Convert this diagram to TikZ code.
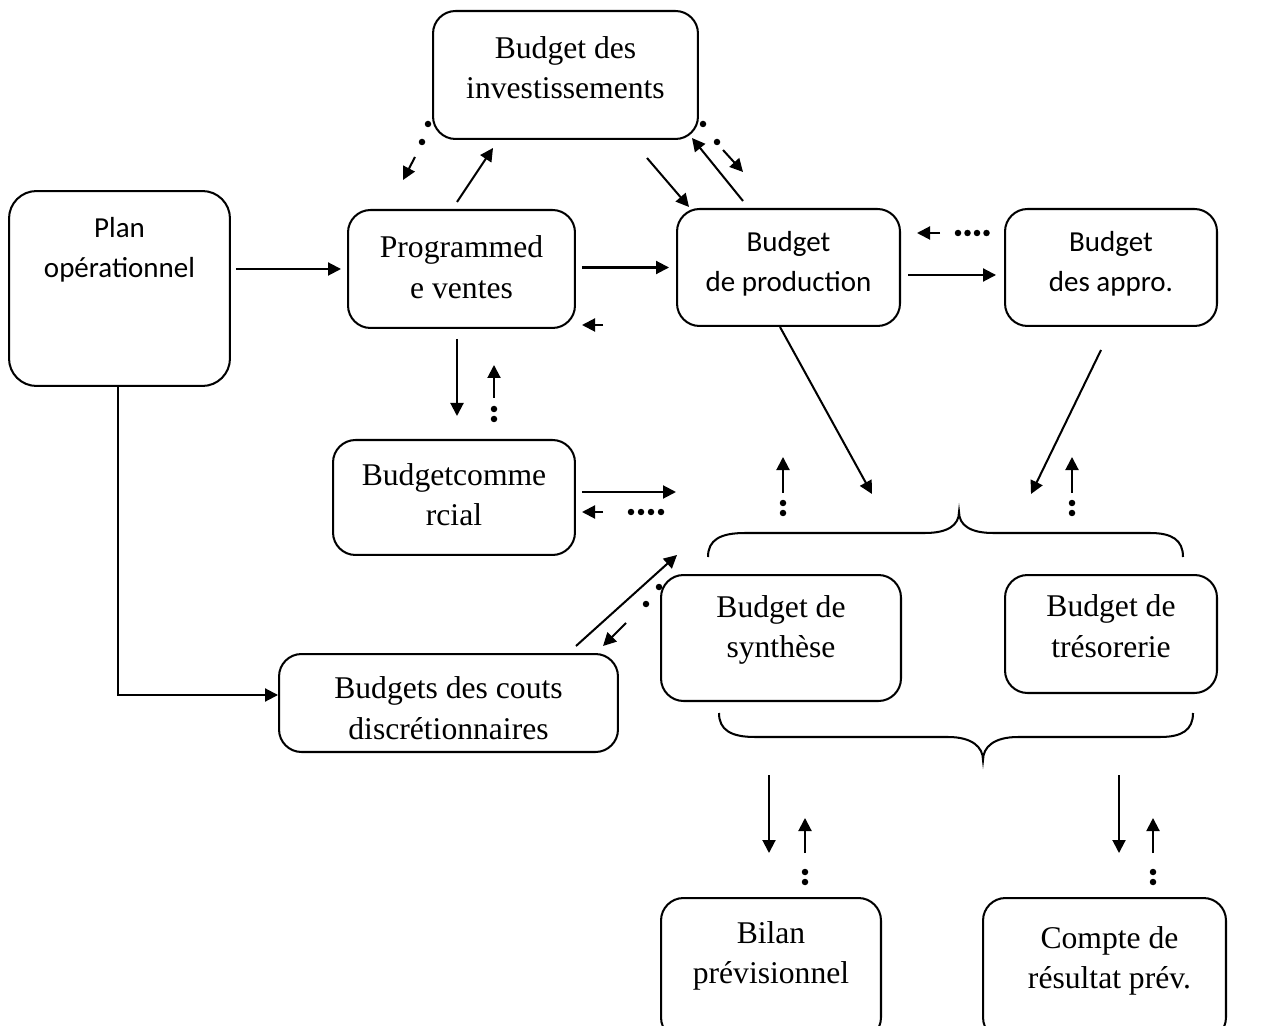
\documentclass[tikz,border=0pt]{standalone}
\usepackage{fontspec}
\setmainfont{Liberation Serif}
\newfontfamily\calib{Carlito}
\usetikzlibrary{arrows.meta}
\begin{document}
\begin{tikzpicture}[x=0.02cm,y=-0.02cm,line width=1.15pt,
  box/.style={draw,rounded corners=0.45cm,inner sep=0pt},
  serif/.style={font=\fontsize{18}{23}\selectfont,align=center},
  sans/.style={font=\calib\fontsize{16.5}{23}\selectfont,align=center},
  arr/.style={-{Triangle[length=7.4pt,width=7.4pt]}}]
\useasboundingbox (0,0) rectangle (1270,1026);

% boxes
\node[box,minimum width=5.3cm,minimum height=2.56cm,
  label={[serif,yshift=0.15cm]center:{Budget des\\investissements}}] (inv) at (565.5,75) {};
\node[box,rounded corners=0.55cm,minimum width=4.42cm,minimum height=3.9cm,
  label={[sans,yshift=0.77cm]center:{Plan\\opérationnel}}] (plan) at (119.5,288.5) {};
\node[box,minimum width=4.54cm,minimum height=2.36cm,
  label={[serif,yshift=0.04cm]center:{Programmed\\e ventes}}] (prog) at (461.5,269) {};
\node[box,minimum width=4.46cm,minimum height=2.34cm,
  label={[sans,yshift=0.08cm]center:{Budget\\de production}}] (prod) at (788.5,267.5) {};
\node[box,minimum width=4.24cm,minimum height=2.34cm,
  label={[sans,yshift=0.08cm]center:{Budget\\des appro.}}] (appro) at (1111,267.5) {};
\node[box,minimum width=4.84cm,minimum height=2.3cm,
  label={[serif,yshift=0.06cm]center:{Budgetcomme\\rcial}}] (comm) at (454,497.5) {};
\node[box,minimum width=6.78cm,minimum height=1.96cm,
  label={[serif,yshift=-0.1cm]center:{Budgets des couts\\discrétionnaires}}] (couts) at (448.5,703) {};
\node[box,minimum width=4.8cm,minimum height=2.52cm,
  label={[serif,yshift=0.16cm]center:{Budget de\\synthèse}}] (synth) at (781,638) {};
\node[box,minimum width=4.24cm,minimum height=2.36cm,
  label={[serif,yshift=0.16cm]center:{Budget de\\trésorerie}}] (treso) at (1111,634) {};
\node[box,minimum width=4.4cm,minimum height=2.84cm,
  label={[serif,yshift=0.26cm]center:{Bilan\\prévisionnel}}] (bilan) at (771,969) {};
\node[box,minimum width=4.86cm,minimum height=2.84cm,
  label={[serif,xshift=0.1cm,yshift=0.16cm]center:{Compte de\\résultat prév.}}] (compte) at (1104.5,969) {};

% braces
\draw (708,557) .. controls (708,540) and (720,533) .. (745,533) -- (925,533)
  .. controls (948,533) and (959,525) .. (959,512)
  .. controls (959,525) and (970,533) .. (993,533) -- (1150,533)
  .. controls (1172,533) and (1183,540) .. (1183,557);
\draw (719,713) .. controls (719,730) and (731,737) .. (755,737) -- (948,737)
  .. controls (972,737) and (983,747) .. (983,760)
  .. controls (983,747) and (994,737) .. (1018,737) -- (1160,737)
  .. controls (1182,737) and (1193,730) .. (1193,713);

% free ends
\coordinate (bt1) at (872,494);
\coordinate (bt2) at (1031,494);
\coordinate (appf) at (1101,350);
\coordinate (commf) at (676,492);
\coordinate (coutf) at (677,555);
\coordinate (bs1) at (769,775);
\coordinate (be1) at (769,853);
\coordinate (bs2) at (1119,775);
\coordinate (be2) at (1119,853);

% solid connectors
\draw[arr,shorten <=0.1cm,shorten >=0.12cm] (plan.east |- prog.west) -- (prog.west);
\draw[arr,shorten <=0.12cm,shorten >=0.14cm] (prog.east |- prod.west) -- (prod.west);
\draw[arr,shorten <=0.14cm,shorten >=0.16cm] ([yshift=-0.15cm]prod.east) -- ([yshift=-0.15cm]appro.west);
\draw[arr] ([xshift=-0.03cm]plan.south) |- ([yshift=0.16cm]couts.west);
\draw[arr] ([shift={(-4.5,-7)}]prog.north) -- ([shift={(-72.5,8)}]inv.south);
\draw[arr] ([shift={(81.5,18)}]inv.south) -- ([shift={(13,-1)}]prod.north west);
\draw[arr] ([shift={(-45.5,-7)}]prod.north) -- ([shift={(-7,-2)}]inv.south east);
\draw[arr] ([shift={(-4.5,10)}]prog.south) -- ([shift={(3,-23)}]comm.north);
\draw[arr] ([shift={(6,-5.5)}]comm.east) -- (commf);
\draw[arr] ([shift={(-8.5,0)}]prod.south) -- (bt1);
\draw[arr] (appf) -- (bt2);
\draw[arr] ([shift={(-43,-7)}]couts.north east) -- (coutf);
\draw[arr] (bs1) -- (be1);
\draw[arr] (bs2) -- (be2);

% dotted return arrows
\draw[arr] (415,157) -- (403,180);
\foreach \p in {(428,124),(422,142)} \fill \p circle (0.065cm);
\draw[arr] (723,150) -- (743,172);
\foreach \p in {(703,124),(717,142)} \fill \p circle (0.065cm);
\draw[arr] (940,233) -- (917,233);
\foreach \p in {(958,233),(967.5,233),(977,233),(986.5,233)} \fill \p circle (0.065cm);
\draw[arr] (603,325) -- (582,325);
\draw[arr] (494,398) -- (494,365);
\foreach \p in {(494,409),(494,419)} \fill \p circle (0.065cm);
\draw[arr] (603,512) -- (582,512);
\foreach \p in {(631,512),(641,512),(651,512),(661,512)} \fill \p circle (0.065cm);
\draw[arr] (783,493) -- (783,457);
\foreach \p in {(783,503),(783,513)} \fill \p circle (0.065cm);
\draw[arr] (1072,493) -- (1072,457);
\foreach \p in {(1072,503),(1072,513)} \fill \p circle (0.065cm);
\draw[arr] (626,623) -- (603,646);
\foreach \p in {(659,587),(646,604)} \fill \p circle (0.065cm);
\draw[arr] (805,853) -- (805,818);
\foreach \p in {(805,872),(805,882)} \fill \p circle (0.065cm);
\draw[arr] (1153,853) -- (1153,818);
\foreach \p in {(1153,872),(1153,882)} \fill \p circle (0.065cm);
\end{tikzpicture}
\end{document}
